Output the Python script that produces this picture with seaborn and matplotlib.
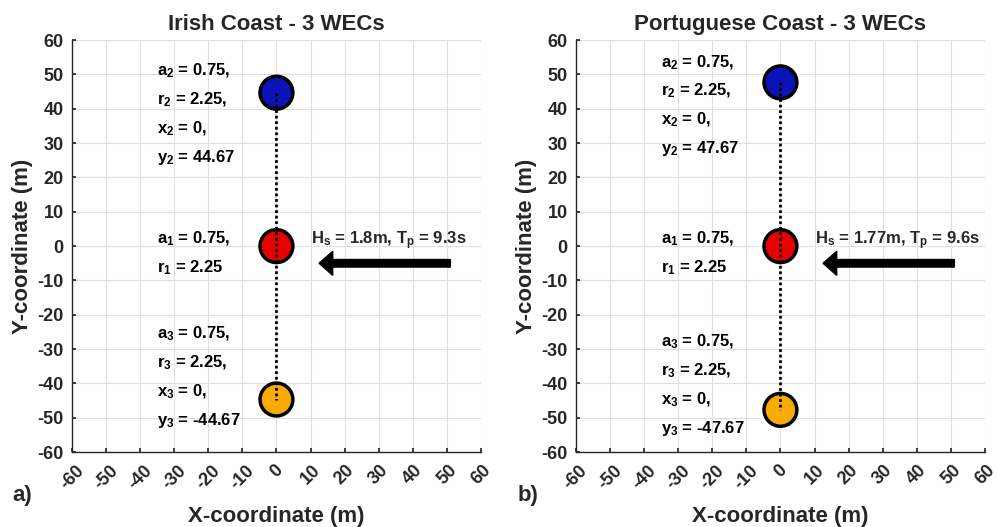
import matplotlib
matplotlib.use("Agg")
import matplotlib.pyplot as plt
import seaborn as sns
import pandas as pd

sns.set_theme(style="whitegrid")
plt.rcParams['font.family'] = ['Liberation Sans', 'DejaVu Sans']
plt.rcParams['font.weight'] = 'bold'
plt.rcParams['mathtext.default'] = 'bf'
plt.rcParams['mathtext.fontset'] = 'custom'
plt.rcParams['mathtext.bf'] = 'Liberation Sans:bold'
plt.rcParams['axes.unicode_minus'] = False

# %% Data
titles = ["Irish Coast - 3 WECs", "Portuguese Coast - 3 WECs"]
panel_tags = ["a)", "b)"]
wec_ids = ["1", "2", "3"]
wec_x = [0, 0, 0]
wec_y_irish = [0, 44.67, -44.67]
wec_y_port = [0, 47.67, -47.67]
wec_colors = ["#e60000", "#0a12b8", "#f7aa00"]
a_vals = [0.75, 0.75, 0.75]
r_vals = [2.25, 2.25, 2.25]
sea_states = ["H$_s$ = 1.8m, T$_p$ = 9.3s", "H$_s$ = 1.77m, T$_p$ = 9.6s"]
ticks = list(range(-60, 61, 10))

# label block tops (first line y) for each WEC, per panel
label_top_irish = [2, 51, -25.5]
label_top_port = [2, 53.5, -28]

fig = plt.figure(figsize=(9.98, 5.27), dpi=100)
ax1 = fig.add_axes([0.072, 0.142, 0.41, 0.782])
ax2 = fig.add_axes([0.577, 0.142, 0.41, 0.782])

for ax, title, tag, ys, tops, sea in zip(
        [ax1, ax2], titles, panel_tags,
        [wec_y_irish, wec_y_port], [label_top_irish, label_top_port], sea_states):
    df = pd.DataFrame({"x": wec_x, "y": ys, "id": wec_ids})

    # dotted connector
    ax.plot([0, 0], [max(ys), min(ys)], linestyle=(0, (1, 1)), color="black",
            lw=2, zorder=4)
    sns.scatterplot(data=df, x="x", y="y", hue="id", palette=wec_colors,
                    s=560, edgecolor="black", linewidth=2.5, legend=False,
                    ax=ax, zorder=3)

    # labels
    step = 8.4
    for i, wid in enumerate(wec_ids):
        if wid == "1":
            lines = [f"a$_{wid}$ = {a_vals[i]},", f"r$_{wid}$ = {r_vals[i]}"]
        else:
            lines = [f"a$_{wid}$ = {a_vals[i]},", f"r$_{wid}$ = {r_vals[i]},",
                     f"x$_{wid}$ = {wec_x[i]},", f"y$_{wid}$ = {ys[i]:.2f}"]
        for k, line in enumerate(lines):
            ax.text(-35, tops[i] - k * step, line, fontsize=12,
                    fontweight="bold", va="center", ha="left", color="black")

    # wave direction arrow
    ax.text(10, 1.5, sea, fontsize=12, fontweight="bold", va="center", ha="left")
    ax.arrow(51, -5, -34.5, 0, width=2.2, head_width=7, head_length=4,
             length_includes_head=False, color="black", zorder=5)

    ax.set_xlim(-60, 60)
    ax.set_ylim(-60, 60)
    ax.set_xticks(ticks)
    ax.set_yticks(ticks)
    ax.tick_params(axis="x", labelrotation=45, labelsize=13, pad=7, length=3,
                   direction="in", bottom=True, colors="#262626")
    ax.tick_params(axis="y", labelsize=13, pad=6, length=3, direction="in",
                   left=True, colors="#262626")
    for lbl in ax.get_xticklabels() + ax.get_yticklabels():
        lbl.set_fontweight("bold")
    ax.grid(True, color="#e0e0e0", lw=0.8)
    ax.set_facecolor("white")
    for side in ["top", "right"]:
        ax.spines[side].set_visible(False)
    for side in ["left", "bottom"]:
        ax.spines[side].set_color("#262626")
        ax.spines[side].set_linewidth(1)
    ax.set_title(title, fontsize=16, fontweight="bold", pad=7)
    ax.set_xlabel("X-coordinate (m)", fontsize=16, fontweight="bold", labelpad=10)
    ax.set_ylabel("Y-coordinate (m)", fontsize=16, fontweight="bold", labelpad=3)

fig.text(0.012, 0.05, "a)", fontsize=16, fontweight="bold")
fig.text(0.519, 0.05, "b)", fontsize=16, fontweight="bold")

plt.savefig("out.png", dpi=100)
